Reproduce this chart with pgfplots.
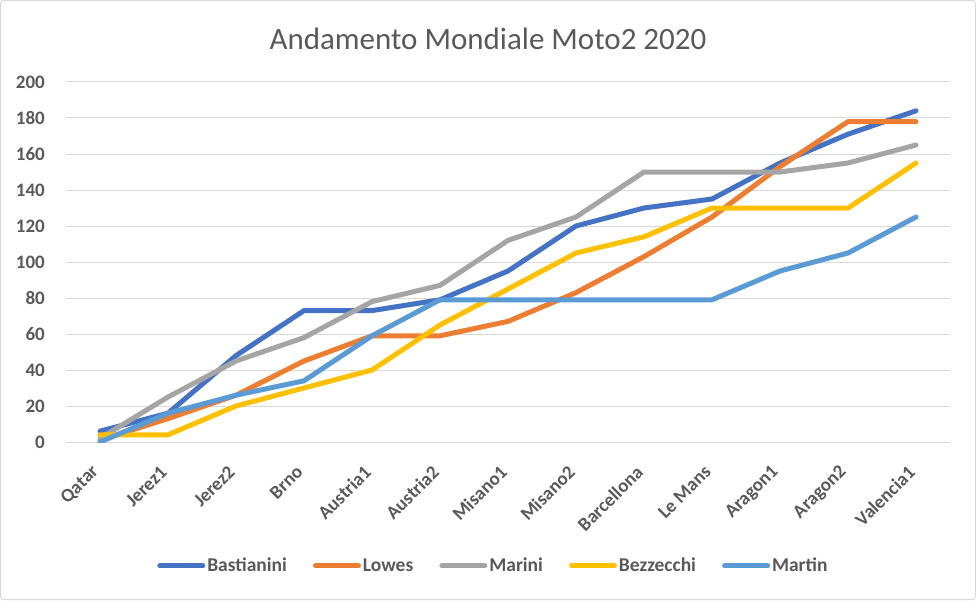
\documentclass[border=0pt]{standalone}
\usepackage{pgfplots}
\pgfplotsset{compat=1.18}
\usepackage{fontspec}
\setmainfont{Carlito}
\definecolor{cBas}{HTML}{4472C4}
\definecolor{cLow}{HTML}{ED7D31}
\definecolor{cMar}{HTML}{A5A5A5}
\definecolor{cBez}{HTML}{FFC000}
\definecolor{cMtn}{HTML}{5B9BD5}
\definecolor{txt}{HTML}{595959}
\definecolor{gridc}{HTML}{D9D9D9}
\begin{document}
\begin{tikzpicture}[x=1pt,y=1pt]
\path[use as bounding box] (0,0) rectangle (976,600);
\draw[gridc, line width=1pt, rounded corners=3pt] (0.5,0.5) rectangle (975.5,599.5);
\node[text=txt, font=\fontsize{31}{35}\selectfont, anchor=center] at (488,561) {Andamento Mondiale Moto2 2020};
\begin{axis}[
  at={(66pt,158pt)}, anchor=south west,
  width=884pt, height=360pt, scale only axis,
  xmin=-0.5, xmax=12.5, ymin=0, ymax=200,
  xtick={0,...,12},
  xticklabels={Qatar,Jerez1,Jerez2,Brno,Austria1,Austria2,Misano1,Misano2,Barcellona,Le Mans,Aragon1,Aragon2,Valencia1},
  ytick={0,20,...,200},
  ymajorgrids, grid style={gridc, line width=1pt},
  axis line style={draw=none},
  major tick length=0pt,
  /pgf/number format/assume math mode=true,
  yticklabel style={font=\fontsize{19}{22}\selectfont\bfseries, text=txt, anchor=east, inner sep=0pt, xshift=-21pt},
  xticklabel style={font=\fontsize{19}{22}\selectfont\bfseries, text=txt, rotate=45, anchor=east, inner sep=0pt, xshift=-22pt, yshift=-16pt},
  legend columns=5,
  legend style={at={(0.4835,-0.344)}, anchor=center, draw=none, fill=none,
    font=\fontsize{19.5}{22}\selectfont\bfseries, text=txt,
    /tikz/every even column/.append style={column sep=24pt},
    nodes={inner sep=2pt}},
  legend image code/.code={\draw[#1] (0pt,0pt) -- (43pt,0pt);},
  every axis plot/.append style={line width=5pt, line join=round, line cap=round},
]
\addplot[cBas] coordinates {(0,6) (1,16) (2,48) (3,73) (4,73) (5,79) (6,95) (7,120) (8,130) (9,135) (10,155) (11,171) (12,184)};
\addlegendentry{Bastianini}
\addplot[cLow] coordinates {(0,1) (1,13) (2,26) (3,45) (4,59) (5,59) (6,67) (7,83) (8,103) (9,125) (10,153) (11,178) (12,178)};
\addlegendentry{Lowes}
\addplot[cMar] coordinates {(0,2) (1,25) (2,45) (3,58) (4,78) (5,87) (6,112) (7,125) (8,150) (9,150) (10,150) (11,155) (12,165)};
\addlegendentry{Marini}
\addplot[cBez] coordinates {(0,4) (1,4) (2,20) (3,30) (4,40) (5,65) (6,85) (7,105) (8,114) (9,130) (10,130) (11,130) (12,155)};
\addlegendentry{Bezzecchi}
\addplot[cMtn] coordinates {(0,0) (1,16) (2,26) (3,34) (4,59) (5,79) (6,79) (7,79) (8,79) (9,79) (10,95) (11,105) (12,125)};
\addlegendentry{Martin}
\end{axis}
\end{tikzpicture}
\end{document}
